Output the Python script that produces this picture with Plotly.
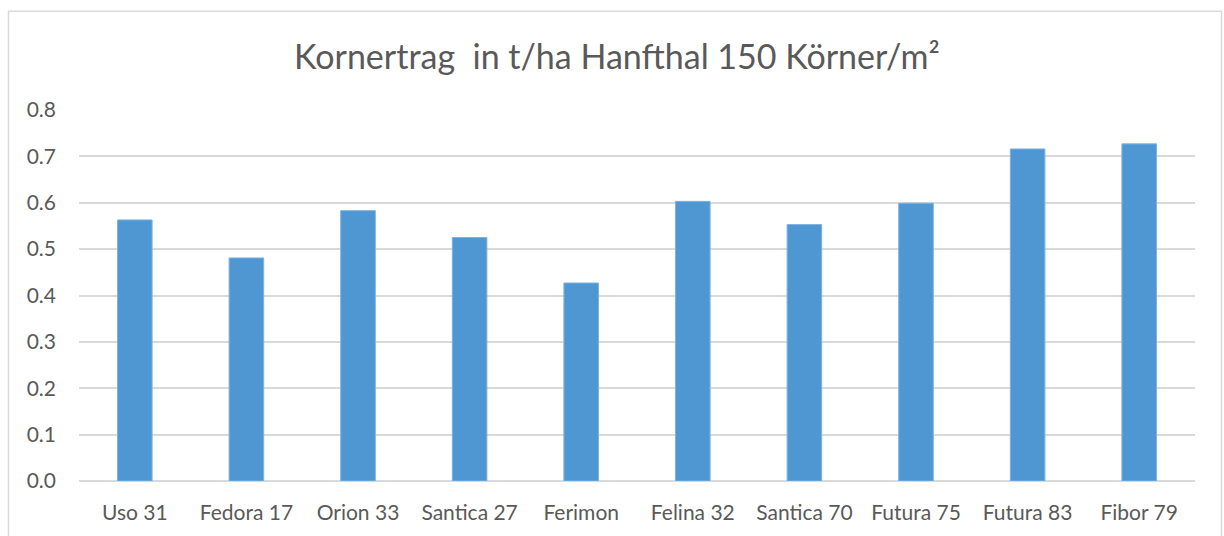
import plotly.graph_objects as go

categories = ["Uso 31", "Fedora 17", "Orion 33", "Santica 27", "Ferimon",
              "Felina 32", "Santica 70", "Futura 75", "Futura 83", "Fibor 79"]
values = [0.563, 0.481, 0.583, 0.525, 0.427, 0.603, 0.553, 0.599, 0.716, 0.727]
y_ticks = [0.0, 0.1, 0.2, 0.3, 0.4, 0.5, 0.6, 0.7, 0.8]
title_text = "Kornertrag  in t/ha Hanfthal 150 Körner/m²"

W, H = 1224, 536
L, R, T, B = 79, 29, 110, 52
pw, ph = W - L - R, H - T - B

fig = go.Figure(go.Bar(
    x=categories, y=values,
    marker=dict(color="#4F97D3", line=dict(color="#7DB2E2", width=1)),
))

def px2paper_x(px):
    return (px - L) / pw

def px2paper_y(py):
    return (H - B - py) / ph

FONT = "Lato, Noto Sans, sans-serif"

fig.update_layout(
    width=W, height=H,
    margin=dict(l=L, r=R, t=T, b=B),
    paper_bgcolor="white", plot_bgcolor="white",
    bargap=0.69,
    showlegend=False,
    font=dict(family=FONT, color="#595959", size=21),
    title=dict(text=title_text, x=0.504, xanchor="center", y=1 - 57 / H,
               yanchor="middle", yref="container",
               font=dict(size=34, color="#595959", family=FONT)),
    xaxis=dict(showgrid=False, showline=False, ticks="", tickfont=dict(size=21),
               ticklabelstandoff=17),
    yaxis=dict(range=[0, 0.8], tickvals=y_ticks, tickformat=".1f",
               showgrid=True, gridcolor="#D9D9D9", gridwidth=1.5,
               zeroline=True, zerolinecolor="#D9D9D9", zerolinewidth=1.5,
               showline=False, ticks="", tickfont=dict(size=21),
               ticklabelstandoff=22),
    shapes=[dict(type="rect", xref="paper", yref="paper",
                 x0=px2paper_x(8.5), x1=px2paper_x(1221.5),
                 y0=px2paper_y(545), y1=px2paper_y(10.5),
                 line=dict(color="#D9D9D9", width=1.5), fillcolor="rgba(0,0,0,0)",
                 layer="below")],
)

fig.write_html("out.html", config={"displayModeBar": False},
               post_script="document.body.style.margin='0';document.body.style.overflow='hidden';")
